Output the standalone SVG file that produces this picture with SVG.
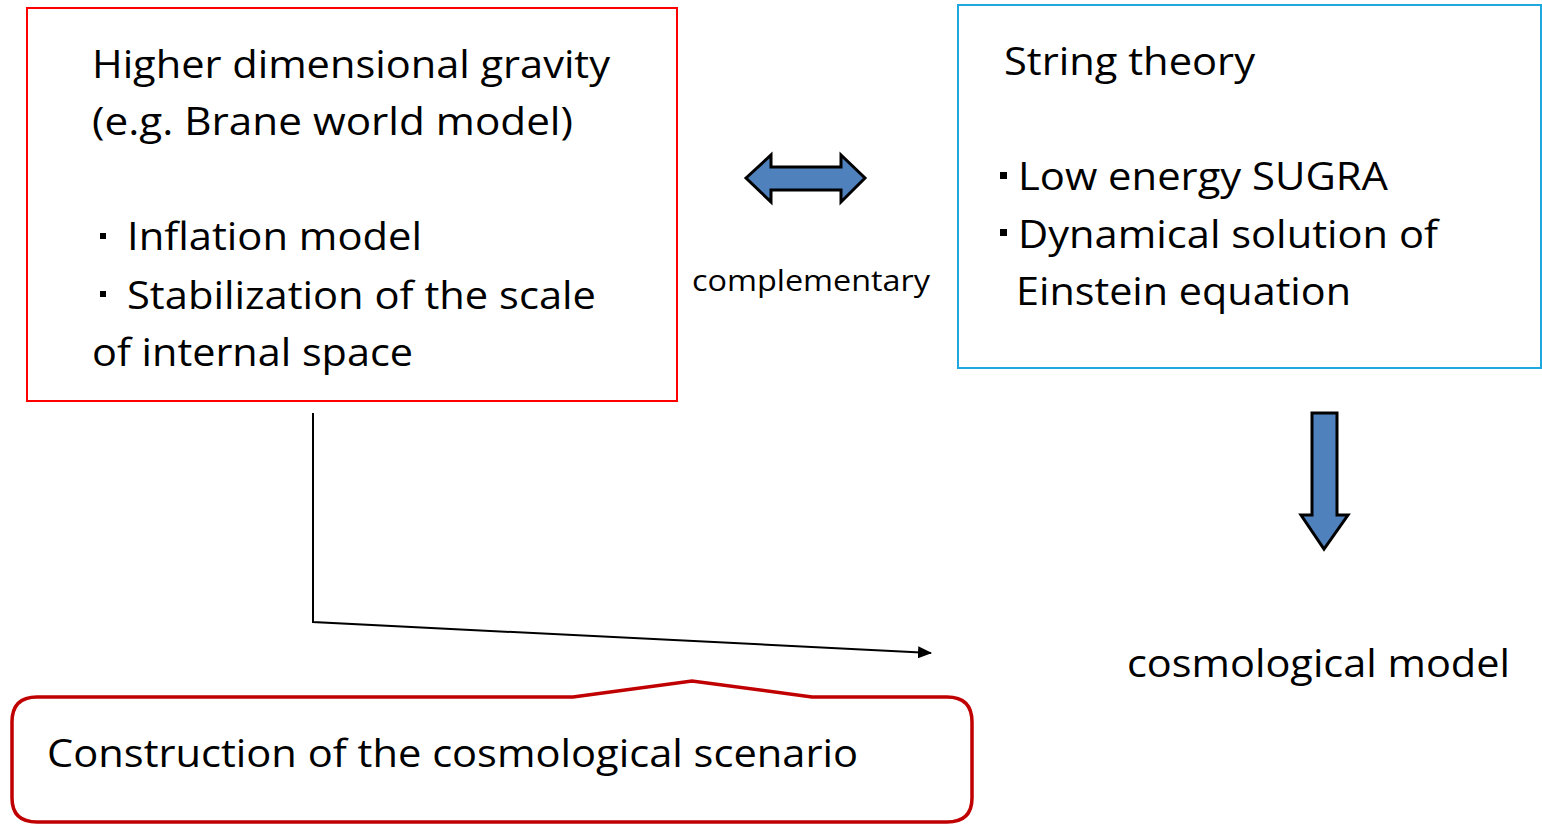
<svg xmlns="http://www.w3.org/2000/svg" width="1542" height="825" viewBox="0 0 1542 825">
<style>
.t{font-family:"Open Sans","Noto Sans","Liberation Sans",sans-serif;font-size:39px;fill:#000}
.ba{fill:#4f81bd;stroke:#000;stroke-width:3;stroke-linejoin:miter}
</style>
<defs>
<marker id="ah" markerWidth="14" markerHeight="12" refX="13" refY="6" orient="auto" markerUnits="userSpaceOnUse">
<path d="M0,0 L14,6 L0,12 Z" fill="#000"/>
</marker>
</defs>
<rect width="1542" height="825" fill="#fff"/>
<g id="higher-dim">
<rect x="27" y="8" width="650" height="393" fill="#fff" stroke="#ff0000" stroke-width="2"/>
<text class="t" x="92" y="78" textLength="518" lengthAdjust="spacingAndGlyphs">Higher dimensional gravity</text>
<text class="t" x="92" y="135" textLength="481" lengthAdjust="spacingAndGlyphs">(e.g. Brane world model)</text>
<rect x="100" y="233" width="6" height="6" fill="#000"/>
<text class="t" x="127" y="250" textLength="295" lengthAdjust="spacingAndGlyphs">Inflation model</text>
<rect x="100" y="291" width="6" height="6" fill="#000"/>
<text class="t" x="127" y="309" textLength="469" lengthAdjust="spacingAndGlyphs">Stabilization of the scale</text>
<text class="t" x="92" y="366" textLength="321" lengthAdjust="spacingAndGlyphs">of internal space</text>
</g>
<g id="string-theory">
<rect x="958" y="5" width="583" height="363" fill="#fff" stroke="#1fa8e0" stroke-width="2"/>
<text class="t" x="1004" y="75" textLength="251" lengthAdjust="spacingAndGlyphs">String theory</text>
<rect x="1000" y="172" width="7" height="7" fill="#000"/>
<text class="t" x="1018" y="190" textLength="370" lengthAdjust="spacingAndGlyphs">Low energy SUGRA</text>
<rect x="1000" y="229" width="7" height="7" fill="#000"/>
<text class="t" x="1018" y="248" textLength="420" lengthAdjust="spacingAndGlyphs">Dynamical solution of</text>
<text class="t" x="1016" y="305" textLength="335" lengthAdjust="spacingAndGlyphs">Einstein equation</text>
</g>
<g id="complementary">
<path class="ba" d="M746,178 L771,155 L771,167 L841,167 L841,155 L865,178 L841,202 L841,190 L771,190 L771,202 Z"/>
<text class="t" x="692" y="291" style="font-size:30px" textLength="238" lengthAdjust="spacingAndGlyphs">complementary</text>
</g>
<g id="down-arrow">
<path class="ba" d="M1312,413 L1337,413 L1337,515 L1348,515 L1324,549 L1301,515 L1312,515 Z"/>
</g>
<g id="cosmological-model">
<text class="t" x="1127" y="677" textLength="383" lengthAdjust="spacingAndGlyphs">cosmological model</text>
</g>
<g id="connectors">
<polyline points="313,413 313,622 931,653" fill="none" stroke="#000" stroke-width="2" marker-end="url(#ah)"/>
</g>
<g id="scenario">
<path d="M37,697 L573,697 L692,681 L812,697 L947,697 Q972,697 972,722 L972,798 Q972,822 947,822 L37,822 Q12,822 12,798 L12,722 Q12,697 37,697 Z" fill="#fff" stroke="#c00000" stroke-width="3.5"/>
<text class="t" x="47" y="767" textLength="811" lengthAdjust="spacingAndGlyphs">Construction of the cosmological scenario</text>
</g>
</svg>
